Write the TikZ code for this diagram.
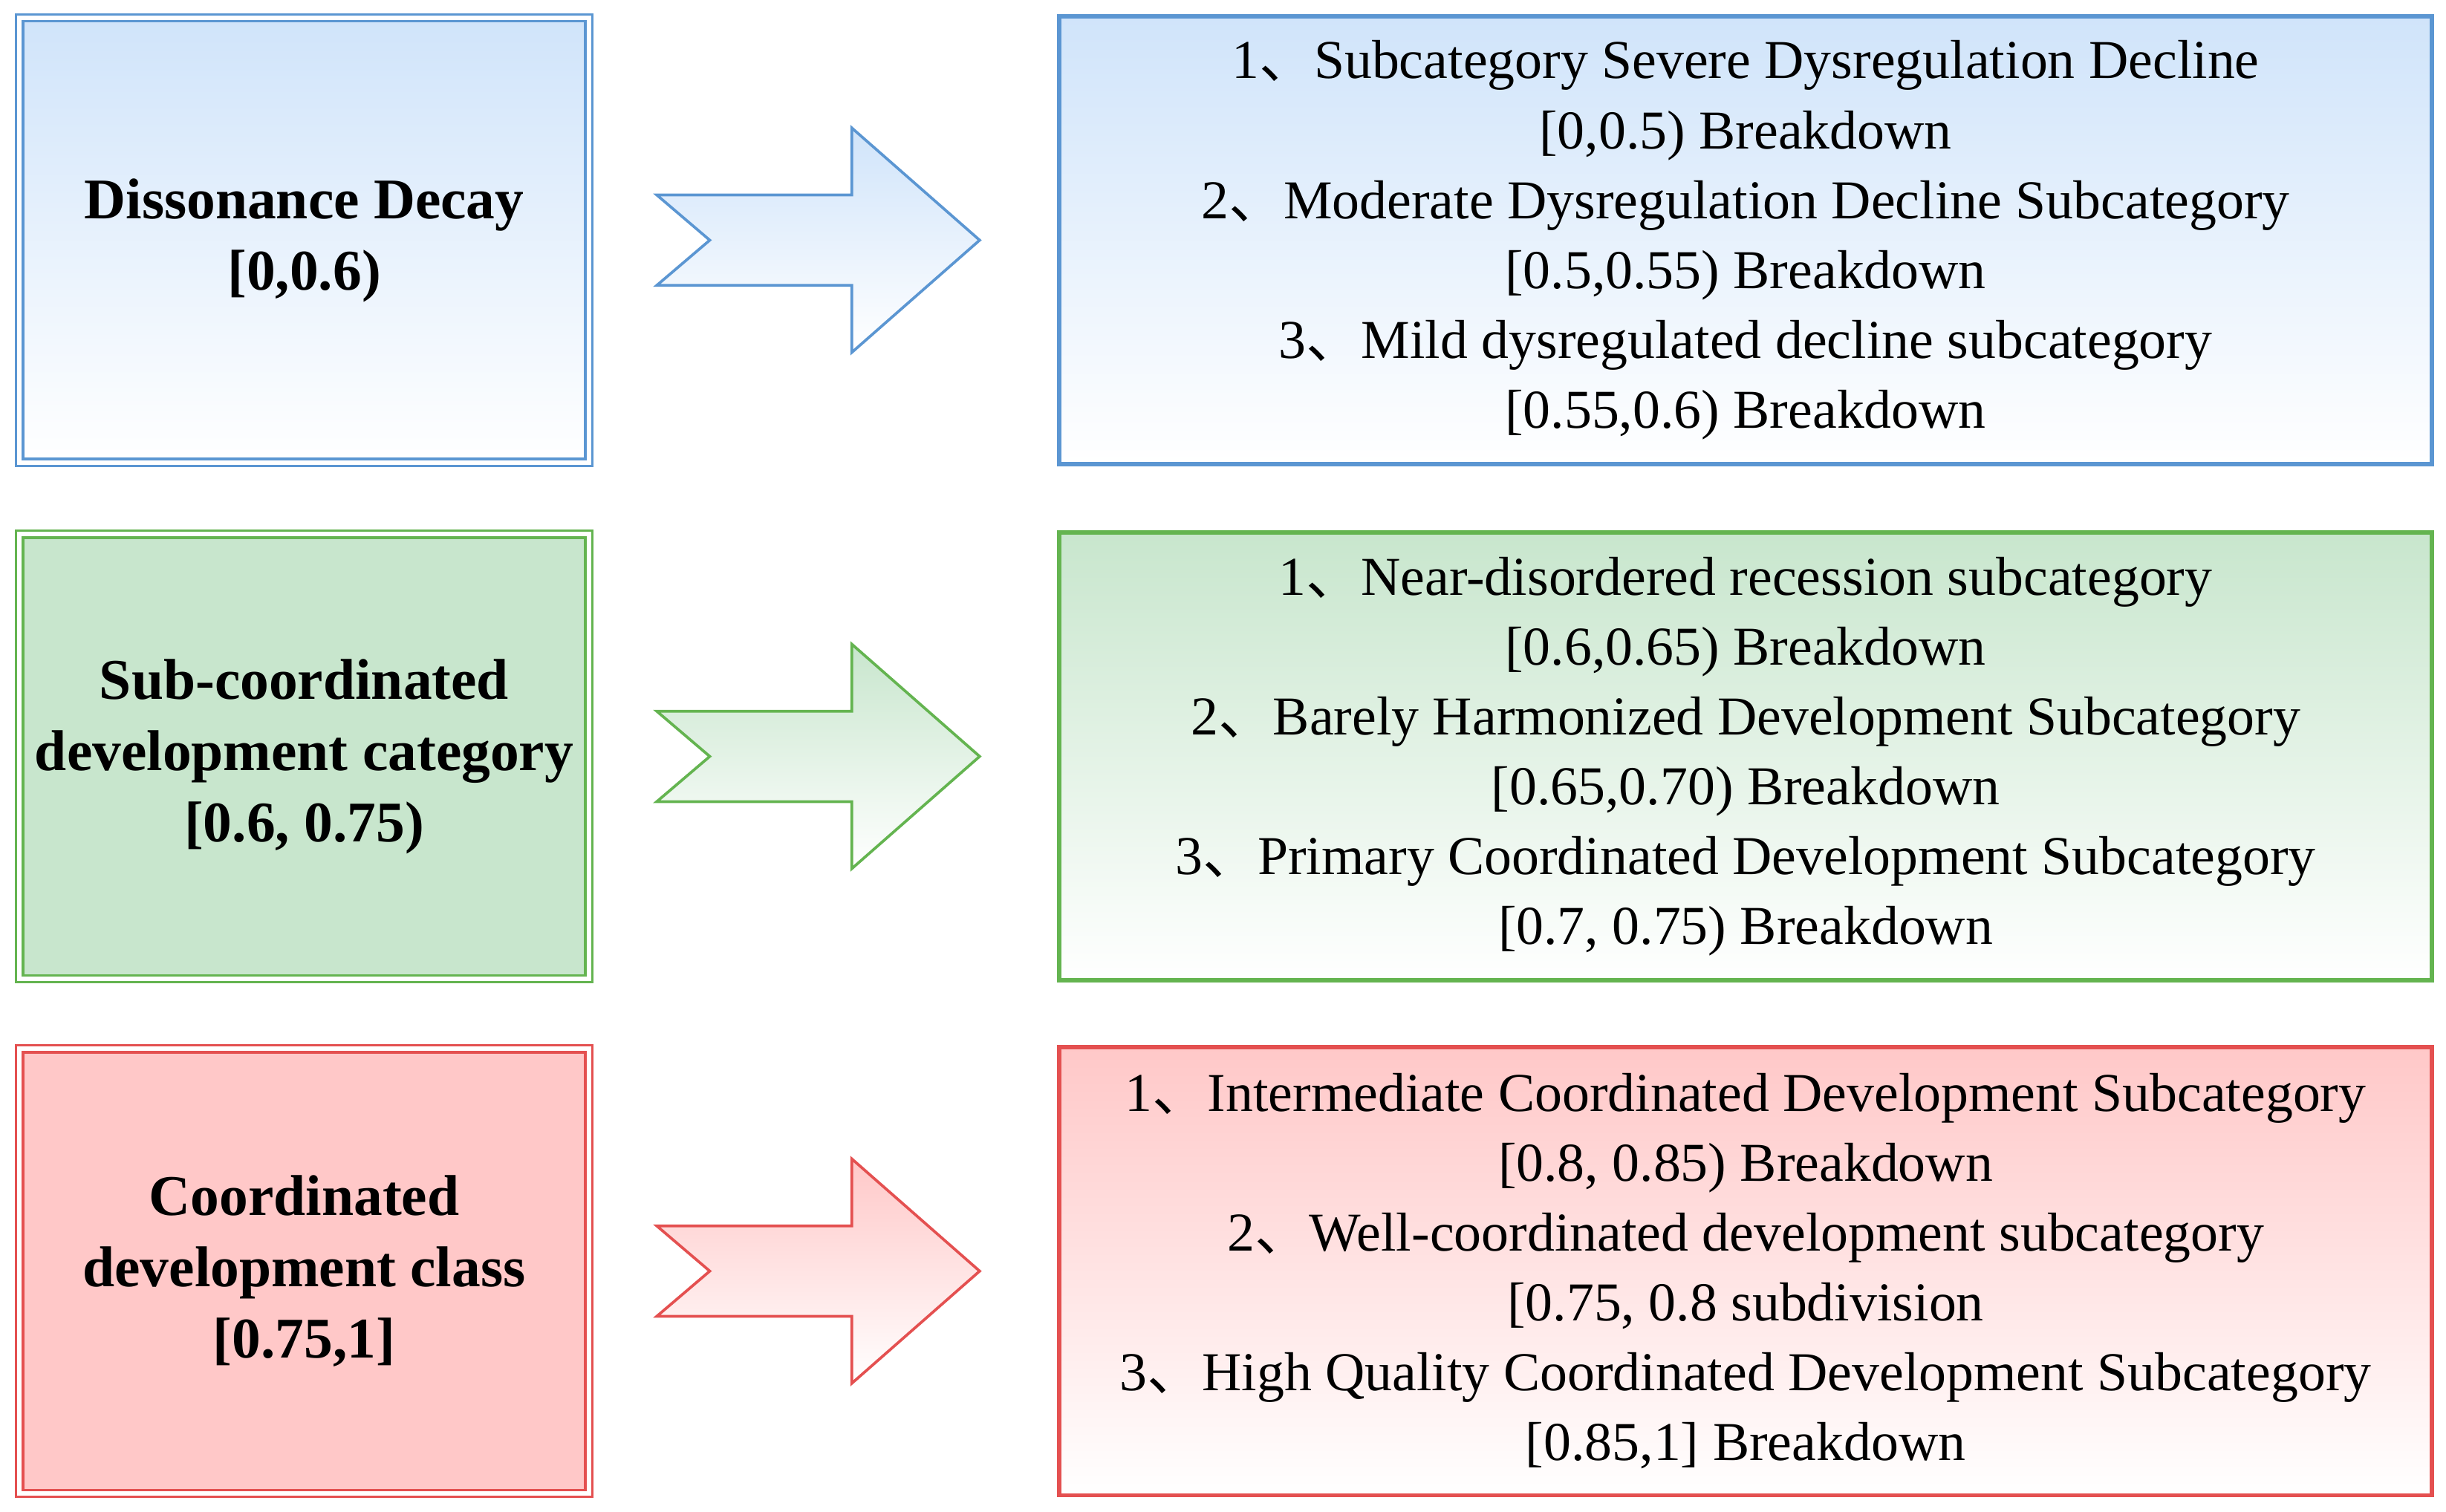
\documentclass[tikz,border=0pt]{standalone}
\usepackage{fontspec}
\setmainfont{Liberation Serif}
\newfontfamily\cjk{Noto Sans CJK SC}
\newcommand{\dun}{{\cjk 、}}
\definecolor{bblue}{RGB}{91,150,210}
\definecolor{fblue}{RGB}{208,228,250}
\definecolor{bgreen}{RGB}{100,180,80}
\definecolor{fgreen}{RGB}{200,230,205}
\definecolor{bred}{RGB}{228,80,80}
\definecolor{fred}{RGB}{255,200,200}
\tikzset{
  catbox/.style={draw=#1, double=white, double distance=1.6pt, line width=0.9pt,
    minimum width=7.3cm, minimum height=5.7cm, align=center,
    font=\fontsize{21}{26}\selectfont\bfseries},
  subbox/.style={draw=#1, line width=1.6pt, minimum width=17.6cm,
    minimum height=5.75cm, align=center, font=\fontsize{20}{25.5}\selectfont},
}
\begin{document}
\begin{tikzpicture}[x=0.02cm,y=-0.02cm]
    \useasboundingbox (0,0) rectangle (1568,969);
    % left boxes
    \node[catbox=bblue, top color=fblue, bottom color=white] (cat1) at (195,154)
      {Dissonance Decay\\{}[0,0.6)};
    \node[catbox=bgreen, fill=fgreen] (cat2) at (195,485)
      {Sub-coordinated\\development category\\{}[0.6, 0.75)};
    \node[catbox=bred, fill=fred] (cat3) at (195,815)
      {Coordinated\\development class\\{}[0.75,1]};
    % right boxes
    \node[subbox=bblue, top color=fblue, bottom color=white] (sub1) at (1119,154)
      {1\dun Subcategory Severe Dysregulation Decline\\{}[0,0.5) Breakdown\\
       2\dun Moderate Dysregulation Decline Subcategory\\{}[0.5,0.55) Breakdown\\
       3\dun Mild dysregulated decline subcategory\\{}[0.55,0.6) Breakdown};
    \node[subbox=bgreen, top color=fgreen, bottom color=white] (sub2) at (1119,485)
      {1\dun Near-disordered recession subcategory\\{}[0.6,0.65) Breakdown\\
       2\dun Barely Harmonized Development Subcategory\\{}[0.65,0.70) Breakdown\\
       3\dun Primary Coordinated Development Subcategory\\{}[0.7, 0.75) Breakdown};
    \node[subbox=bred, top color=fred, bottom color=white] (sub3) at (1119,815)
      {1\dun Intermediate Coordinated Development Subcategory\\{}[0.8, 0.85) Breakdown\\
       2\dun Well-coordinated development subcategory\\{}[0.75, 0.8 subdivision\\
       3\dun High Quality Coordinated Development Subcategory\\{}[0.85,1] Breakdown};
    % arrows
    \foreach \yc/\col in {154/blue, 485/green, 815/red}
      \draw[draw=b\col, line width=1pt, top color=f\col, bottom color=white]
        (421,\yc-29) -- (546,\yc-29) -- (546,\yc-72) -- (628,\yc)
        -- (546,\yc+72) -- (546,\yc+29) -- (421,\yc+29) -- (455,\yc) -- cycle;
\end{tikzpicture}
\end{document}
